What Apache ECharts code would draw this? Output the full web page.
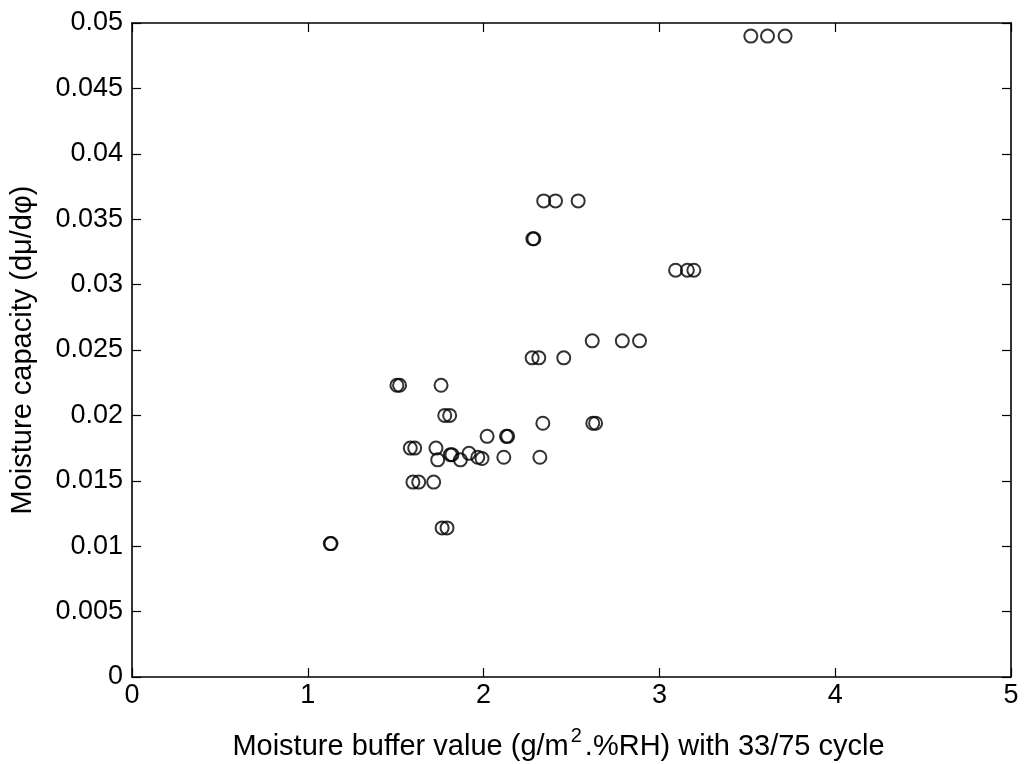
<!DOCTYPE html>
<html>
<head>
<meta charset="utf-8">
<script src="https://cdn.jsdelivr.net/npm/echarts@6/dist/echarts.min.js"></script>
<style>
  html, body { margin: 0; padding: 0; background: #fff; }
  #chart { width: 1027px; height: 764px; }
</style>
</head>
<body>
<div id="chart"></div>
<script>
// Moisture buffer value (g/m2.%RH, 33/75 cycle) for each sample
const moistureBuffer = [
  3.52, 3.615, 3.715,
  2.342, 2.409, 2.538,
  2.280, 2.286,
  3.092, 3.159, 3.196,
  2.618, 2.789, 2.887,
  2.276, 2.314, 2.456,
  1.507, 1.522, 1.758,
  1.779, 1.807,
  2.337, 2.621, 2.637,
  2.020, 2.130, 2.137,
  1.583, 1.608, 1.729,
  1.739, 1.811, 1.820, 1.868, 1.917, 1.967, 1.991, 2.115, 2.320,
  1.598, 1.631, 1.716,
  1.764, 1.792,
  1.128, 1.132
];

// Moisture capacity (dμ/dφ) for the same samples
const moistureCapacity = [
  0.0490, 0.0490, 0.0490,
  0.0364, 0.0364, 0.0364,
  0.0335, 0.0335,
  0.0311, 0.0311, 0.0311,
  0.0257, 0.0257, 0.0257,
  0.0244, 0.0244, 0.0244,
  0.0223, 0.0223, 0.0223,
  0.0200, 0.0200,
  0.0194, 0.0194, 0.0194,
  0.0184, 0.0184, 0.0184,
  0.0175, 0.0175, 0.0175,
  0.0166, 0.0170, 0.0170, 0.0166, 0.0171, 0.0168, 0.0167, 0.0168, 0.0168,
  0.0149, 0.0149, 0.0149,
  0.0114, 0.0114,
  0.0102, 0.0102
];

const xTitle = 'Moisture buffer value (g/m{sup|2}.%RH) with 33/75 cycle';
const yTitle = 'Moisture capacity (dμ/dφ)';

const points = moistureBuffer.map((x, i) => [x, moistureCapacity[i]]);

const FONT = '"Liberation Sans", Arial, Helvetica, sans-serif';
const TICK_FONT = 27;
const TITLE_FONT = 29;
const lineStyle = { color: '#000', width: 1.6 };
const tickStyle = { show: true, inside: true, length: 9, lineStyle: { color: '#000', width: 1.2 } };

const chart = echarts.init(document.getElementById('chart'), null, { renderer: 'canvas' });
chart.setOption({
  backgroundColor: '#fff',
  animation: false,
  grid: { left: 132, right: 16, top: 23, bottom: 87, containLabel: false, outerBoundsMode: 'none' },
  xAxis: [
    {
      type: 'value', min: 0, max: 5, interval: 1, position: 'bottom',
      axisLine: { show: true, onZero: false, lineStyle },
      axisTick: tickStyle,
      splitLine: { show: false },
      axisLabel: { color: '#000', fontFamily: FONT, fontSize: TICK_FONT, margin: 5 },
      name: xTitle,
      nameLocation: 'middle',
      nameGap: 49,
      nameTextStyle: {
        color: '#000', fontFamily: FONT, fontSize: TITLE_FONT,
        padding: [0, 26, 0, 0],
        rich: { sup: { fontSize: 20, verticalAlign: 'top', padding: [0, 3, 22, 2], color: '#000', fontFamily: FONT } }
      }
    },
    {
      type: 'value', min: 0, max: 5, interval: 1, position: 'top',
      axisLine: { show: true, onZero: false, lineStyle },
      axisTick: tickStyle,
      splitLine: { show: false },
      axisLabel: { show: false }
    }
  ],
  yAxis: [
    {
      type: 'value', min: 0, max: 0.05, interval: 0.005, position: 'left',
      axisLine: { show: true, onZero: false, lineStyle },
      axisTick: tickStyle,
      splitLine: { show: false },
      axisLabel: { color: '#000', fontFamily: FONT, fontSize: TICK_FONT, margin: 9 },
      name: yTitle,
      nameLocation: 'middle',
      nameGap: 95,
      nameRotate: 90,
      nameTextStyle: { color: '#000', fontFamily: FONT, fontSize: TITLE_FONT }
    },
    {
      type: 'value', min: 0, max: 0.05, interval: 0.005, position: 'right',
      axisLine: { show: true, onZero: false, lineStyle },
      axisTick: tickStyle,
      splitLine: { show: false },
      axisLabel: { show: false }
    }
  ],
  series: [
    {
      type: 'scatter',
      xAxisIndex: 0,
      yAxisIndex: 0,
      data: points,
      symbol: 'circle',
      symbolSize: 13,
      itemStyle: { color: 'rgba(0,0,0,0)', borderColor: '#000', borderWidth: 2 }
    }
  ]
});
</script>
</body>
</html>
